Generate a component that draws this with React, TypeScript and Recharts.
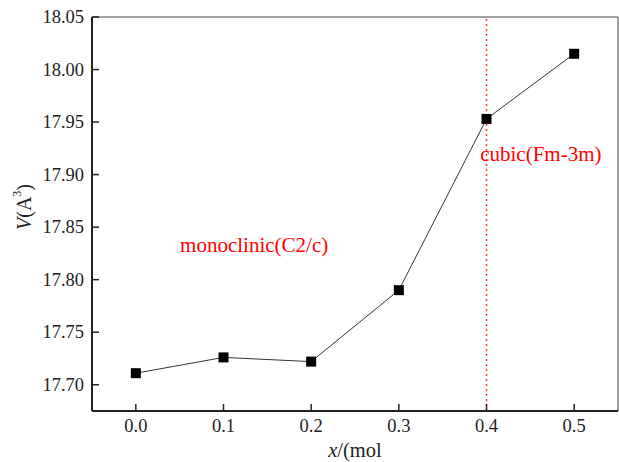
import React from 'react';
import {
  LineChart,
  Line,
  XAxis,
  YAxis,
  ReferenceLine,
  ReferenceArea,
  ReferenceDot,
} from 'recharts';

// Cell volume vs. composition
const xValues = [0.0, 0.1, 0.2, 0.3, 0.4, 0.5];
const volumes = [17.711, 17.726, 17.722, 17.79, 17.953, 18.015];
const xTicks = [0.0, 0.1, 0.2, 0.3, 0.4, 0.5];
const yTicks = [17.7, 17.75, 17.8, 17.85, 17.9, 17.95, 18.0, 18.05];
const phaseBoundary = 0.4;

const chartData = xValues.map((x, i) => ({ x, v: volumes[i] }));

const FONT = "'Liberation Serif', 'Times New Roman', serif";
const serif = { fontFamily: FONT };

const XTick = (props: any) => {
  const { x, y, payload } = props;
  return (
    <g>
      <line x1={x} x2={x} y1={y - 10} y2={y - 17} stroke="#222" strokeWidth={1.5} />
      <text x={x} y={y + 11} textAnchor="middle" style={serif} fontSize={18.5} fill="#222">
        {payload.value.toFixed(1)}
      </text>
    </g>
  );
};

const YTick = (props: any) => {
  const { x, y, payload } = props;
  return (
    <g>
      <line x1={x + 8} x2={x + 15} y1={y} y2={y} stroke="#222" strokeWidth={1.5} />
      <text x={x} y={y + 6} textAnchor="end" style={serif} fontSize={18.5} fill="#222">
        {payload.value.toFixed(2)}
      </text>
    </g>
  );
};

const SquareDot = (props: any) => {
  const { cx, cy } = props;
  if (cx == null || cy == null) return null;
  return <rect x={cx - 5} y={cy - 5} width={10} height={10} fill="#000" />;
};

const YLabel = () => {
  const cx = 24;
  const cy = 207;
  return (
    <text
      x={cx}
      y={cy}
      transform={`rotate(-90, ${cx}, ${cy})`}
      textAnchor="middle"
      dominantBaseline="central"
      style={serif}
      fontSize={20}
      fill="#222"
    >
      <tspan fontStyle="italic">V</tspan>
      <tspan>(A</tspan>
      <tspan fontSize={12} dy={-7}>3</tspan>
      <tspan dy={7}>)</tspan>
    </text>
  );
};

const XLabel = (props: any) => {
  const { viewBox } = props;
  const cx = viewBox.x + viewBox.width / 2;
  return (
    <text x={cx} y={457} textAnchor="middle" style={serif} fontSize={20.5} fill="#222">
      <tspan fontStyle="italic">x</tspan>
      <tspan>/(mol</tspan>
    </text>
  );
};

const PhaseText = (props: any) => {
  const { viewBox, value } = props;
  return (
    <text
      x={viewBox.x + viewBox.width / 2}
      y={viewBox.y + viewBox.height / 2}
      textAnchor="middle"
      dominantBaseline="central"
      style={serif}
      fontSize={21}
      fill="#ff0000"
    >
      {value}
    </text>
  );
};

export default function App() {
  return (
    <div style={{ position: 'absolute', left: 0, top: 0, background: '#fff' }}>
      <LineChart
        width={619}
        height={462}
        data={chartData}
        margin={{ top: 17, right: 1, left: 32, bottom: 21 }}
      >
        <ReferenceArea
          x1={-0.05}
          x2={0.55}
          y1={17.675}
          y2={18.05}
          fill="none"
          stroke="#444"
          strokeWidth={1}
          ifOverflow="visible"
        />
        <XAxis
          dataKey="x"
          type="number"
          domain={[-0.05, 0.55]}
          ticks={xTicks}
          allowDataOverflow
          height={30}
          tickSize={0}
          tickMargin={10}
          tickLine={false}
          axisLine={{ stroke: '#222', strokeWidth: 2 }}
          tick={<XTick />}
          label={<XLabel />}
        />
        <YAxis
          type="number"
          domain={[17.675, 18.05]}
          ticks={yTicks}
          allowDataOverflow
          width={60}
          tickSize={0}
          tickMargin={8}
          tickLine={false}
          axisLine={{ stroke: '#222', strokeWidth: 2 }}
          tick={<YTick />}
          label={<YLabel />}
        />
        <ReferenceLine
          x={phaseBoundary}
          stroke="#ff3333"
          strokeWidth={1.5}
          strokeDasharray="2 3"
        />
        <ReferenceDot
          x={0.135}
          y={17.833}
          r={0}
          fill="none"
          stroke="none"
          label={<PhaseText value="monoclinic(C2/c)" />}
        />
        <ReferenceDot
          x={0.462}
          y={17.92}
          r={0}
          fill="none"
          stroke="none"
          label={<PhaseText value="cubic(Fm-3m)" />}
        />
        <Line
          dataKey="v"
          type="linear"
          stroke="#333"
          strokeWidth={1}
          dot={<SquareDot />}
          activeDot={false}
          isAnimationActive={false}
        />
      </LineChart>
    </div>
  );
}
